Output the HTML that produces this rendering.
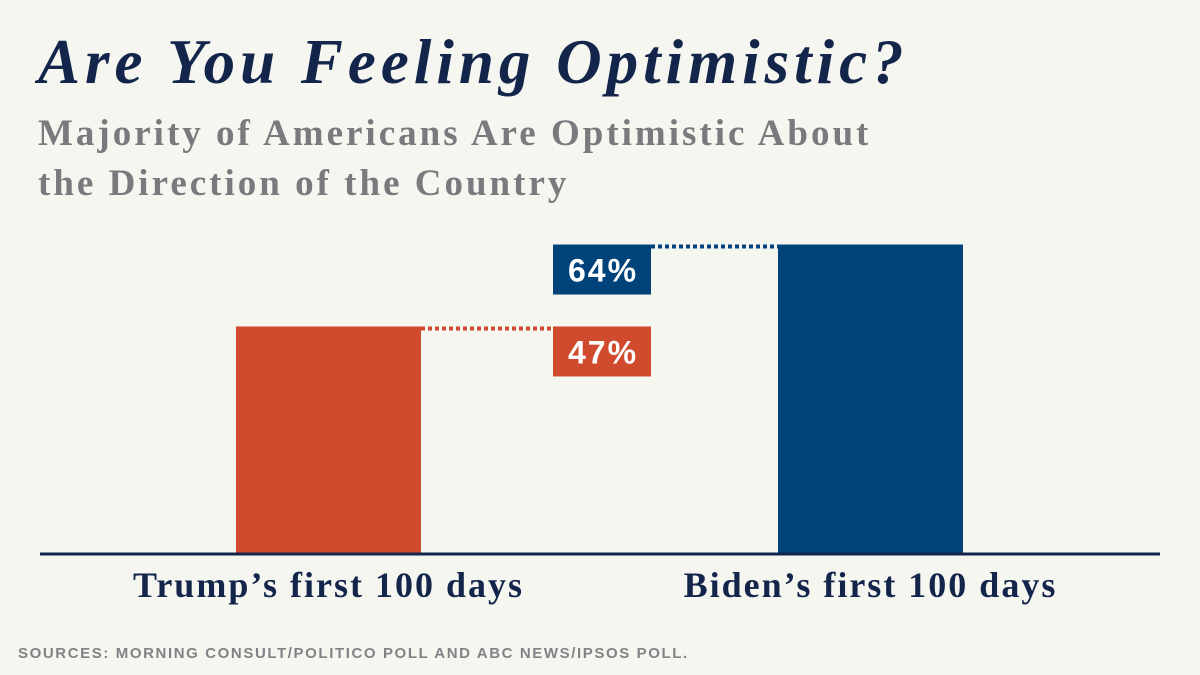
<!DOCTYPE html>
<html><head><meta charset="utf-8"><style>
body{margin:0;width:1200px;height:675px;background:#f6f6f1;overflow:hidden;position:relative;font-family:"Liberation Serif",serif}
.t{position:absolute;left:38px;top:26px;font-size:63px;font-weight:bold;font-style:italic;color:#13254a;letter-spacing:5px;white-space:nowrap}
.s{position:absolute;left:38px;top:109px;font-size:37px;font-weight:bold;color:#797a7d;line-height:50px;letter-spacing:3px;white-space:nowrap}
.src{position:absolute;left:18px;top:645px;font-family:"Liberation Sans",sans-serif;font-size:15px;font-weight:bold;color:#818285;letter-spacing:1.6px;white-space:nowrap}
</style></head><body>
<div class="t">Are You Feeling Optimistic?</div>
<div class="s">Majority of Americans Are Optimistic About<br>the Direction of the Country</div>
<svg id="c" width="1200" height="675" style="position:absolute;left:0;top:0"></svg>
<div class="src">SOURCES: MORNING CONSULT/POLITICO POLL AND ABC NEWS/IPSOS POLL.</div>
<script>
const categories=["Trump\u2019s first 100 days","Biden\u2019s first 100 days"];
const values=[47,64];
const colors=["#d04a2e","#00427a"];
const svg=document.getElementById('c');const NS='http://www.w3.org/2000/svg';
const base=553,ppu=4.82;
const y=v=>base-v*ppu;
const barX=[236,778],bw=185,boxX=553,boxW=98,boxH=50;
function mk(t,a){const e=document.createElementNS(NS,t);for(const k in a)e.setAttribute(k,a[k]);svg.appendChild(e);return e;}
values.forEach((v,i)=>{
 const r=mk('rect',{x:barX[i],y:y(v),width:bw,height:base-y(v),fill:colors[i]});
 
 
 const x1=i?boxX+boxW:barX[i]+bw,x2=i?barX[i]:boxX;
 const l=mk('line',{x1:x1,x2:x2,y1:y(v)+2,y2:y(v)+2,stroke:colors[i],'stroke-width':4,'stroke-dasharray':'4 3'});
 
 
 const b=mk('rect',{x:boxX,y:y(v),width:boxW,height:boxH,fill:colors[i]});
 
 
 const t=mk('text',{x:boxX+boxW/2+1,y:y(v)+37,'text-anchor':'middle',fill:'#fff','font-family':'Liberation Sans, sans-serif','font-weight':'bold','font-size':32,'letter-spacing':2});
 t.textContent=v+'%';
 
 
 const c=mk('text',{x:barX[i]+bw/2,y:597,'text-anchor':'middle',fill:'#13254a','font-family':'Liberation Serif, serif','font-weight':'bold','font-size':36,'letter-spacing':2});
 c.textContent=categories[i];
 
 
});
const ax=mk('line',{x1:40,x2:1160,y1:base+1,y2:base+1,stroke:'#13254a','stroke-width':3});


</script>
</body></html>
